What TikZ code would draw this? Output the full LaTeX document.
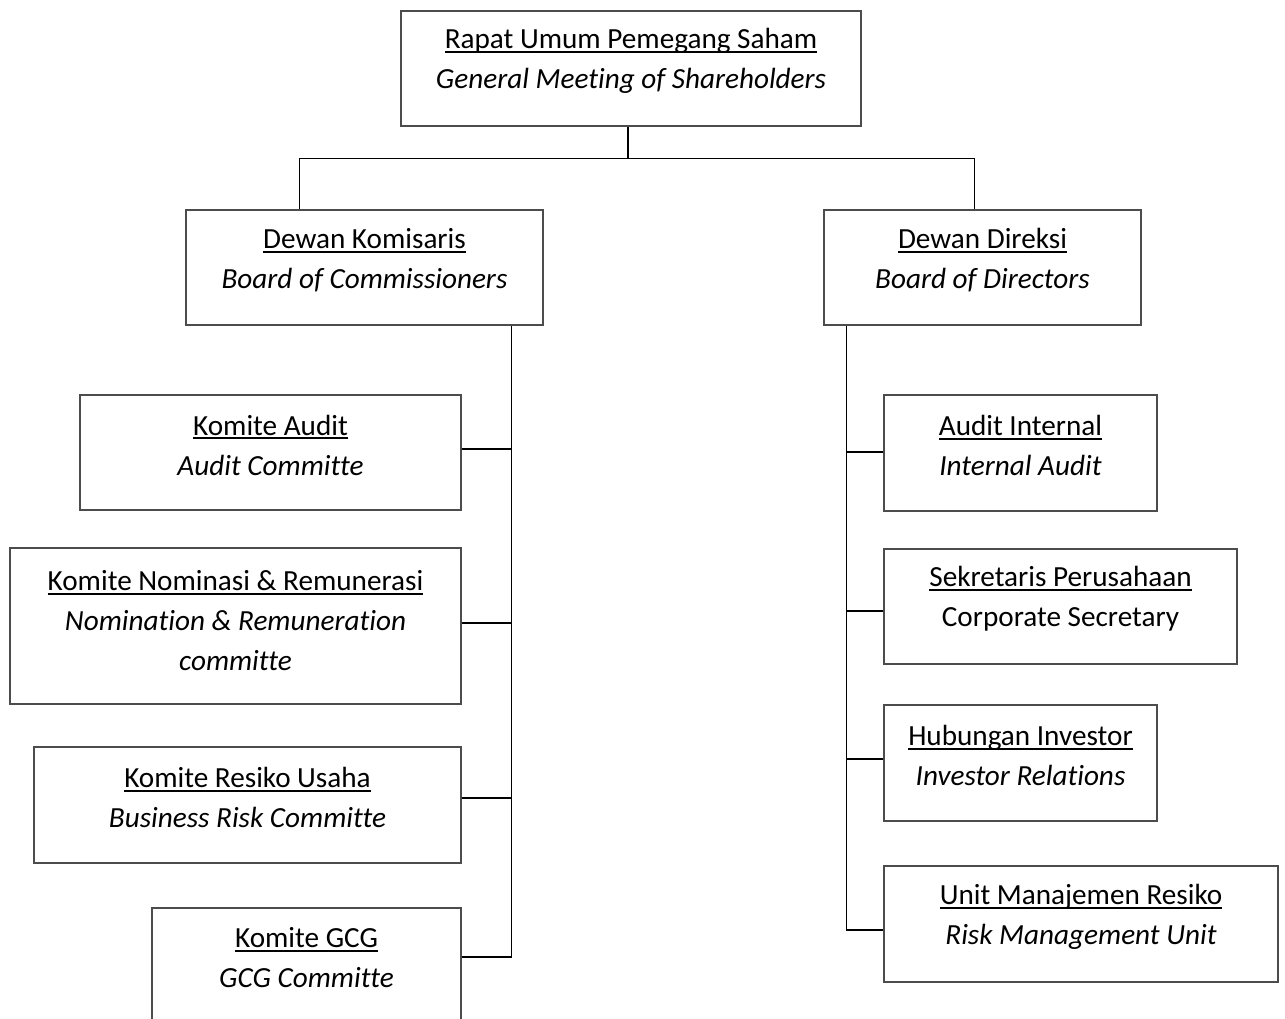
\documentclass[tikz,border=0pt]{standalone}
\usepackage{fontspec}
\setmainfont[Ligatures=NoCommon]{Carlito}
\usetikzlibrary{calc}
% underline with a heavier rule, set just below the baseline
\newsavebox\ulinebox
\newcommand\ulined[1]{\sbox\ulinebox{#1}\rlap{\vrule height -2.4pt depth 4.4pt width \wd\ulinebox}\usebox\ulinebox}
\tikzset{
  orgbox/.style={draw=black!70, line width=1.2pt, rectangle, inner sep=0pt},
  orgtext/.style={inner sep=0pt, align=center, font={\fontsize{29.2}{40}\selectfont}, yshift=7.5pt},
  conn/.style={draw=black, line width=1.4pt}
}
\begin{document}
\begin{tikzpicture}[x=1pt, y=-1pt]
\useasboundingbox (0,0) rectangle (1285,1018);
\clip (0,0) rectangle (1285,1018);

% boxes
\node[orgbox, minimum width=460pt, minimum height=115pt] (rups) at (631,68.5) {};
\node[orgbox, minimum width=357pt, minimum height=115pt] (dk) at (364.5,267.5) {};
\node[orgbox, minimum width=317pt, minimum height=115pt] (dd) at (982.5,267.5) {};
\node[orgbox, minimum width=381pt, minimum height=115pt] (ka) at (270.5,452.5) {};
\node[orgbox, minimum width=451pt, minimum height=156pt] (kn) at (235.5,626) {};
\node[orgbox, minimum width=427pt, minimum height=116pt] (kr) at (247.5,805) {};
\node[orgbox, minimum width=309pt, minimum height=115pt] (kg) at (306.5,965.5) {};
\node[orgbox, minimum width=273pt, minimum height=116pt] (ai) at (1020.5,453) {};
\node[orgbox, minimum width=353pt, minimum height=115pt] (sp) at (1060.5,606.5) {};
\node[orgbox, minimum width=273pt, minimum height=116pt] (hi) at (1020.5,763) {};
\node[orgbox, minimum width=394pt, minimum height=116pt] (um) at (1081,924) {};

% texts
\node[orgtext] (trups) at (rups) {\ulined{Rapat Umum Pemegang Saham}\\\textit{General Meeting of Shareholders}};
\node[orgtext] (tdk) at (dk) {\ulined{Dewan Komisaris}\\\textit{Board of Commissioners}};
\node[orgtext] (tdd) at (dd) {\ulined{Dewan Direksi}\\\textit{Board of Directors}};
\node[orgtext] (tka) at (ka) {\ulined{Komite Audit}\\\textit{Audit Committe}};
\node[orgtext, yshift=-2pt] (tkn) at (kn) {\ulined{Komite Nominasi \& Remunerasi}\\\textit{Nomination \& Remuneration}\\\textit{committe}};
\node[orgtext] (tkr) at (kr) {\ulined{Komite Resiko Usaha}\\\textit{Business Risk Committe}};
\node[orgtext] (tkg) at (kg) {\ulined{Komite GCG}\\\textit{GCG Committe}};
\node[orgtext] (tai) at (ai) {\ulined{Audit Internal}\\\textit{Internal Audit}};
\node[orgtext] (tsp) at (sp) {\ulined{Sekretaris Perusahaan}\\Corporate Secretary};
\node[orgtext] (thi) at (hi) {\ulined{Hubungan Investor}\\\textit{Investor Relations}};
\node[orgtext] (tum) at (um) {\ulined{Unit Manajemen Resiko}\\\textit{Risk Management Unit}};

% top level connectors
\coordinate (split) at ($(rups.south)+(-3,32)$);
\coordinate (dktop) at ($(dk.north west)+(114,0)$);
\coordinate (ddtop) at ($(dd.north west)+(151,0)$);
\draw[conn] ($(rups.south)+(-3,0)$) -- (split);
\draw[conn] (dktop) |- (split) -| (ddtop);

% commissioners' committees
\coordinate (ltop) at ($(dk.south east)+(-32,0)$);
\coordinate (lbot) at (ltop |- kg.north);
\draw[conn] (ltop) -- ($(lbot)+(0,49)$);
\draw[conn] ([yshift=3.5pt]ka.east) -- ([yshift=3.5pt]ka.east -| ltop);
\draw[conn] ([yshift=3pt]kn.east) -- ([yshift=3pt]kn.east -| ltop);
\draw[conn] ([yshift=7pt]kr.east) -- ([yshift=7pt]kr.east -| ltop);
\draw[conn] ([yshift=8.5pt]kg.east) -- ([yshift=8.5pt]kg.east -| ltop);

% directors' units
\coordinate (rtop) at ($(dd.south west)+(23,0)$);
\draw[conn] (rtop) -- ([yshift=-6pt]um.west -| rtop);
\draw[conn] ([yshift=1pt]ai.west) -- ([yshift=1pt]ai.west -| rtop);
\draw[conn] ([yshift=-4.5pt]sp.west) -- ([yshift=-4.5pt]sp.west -| rtop);
\draw[conn] ([yshift=4pt]hi.west) -- ([yshift=4pt]hi.west -| rtop);
\draw[conn] ([yshift=-6pt]um.west) -- ([yshift=-6pt]um.west -| rtop);
\end{tikzpicture}
\end{document}
